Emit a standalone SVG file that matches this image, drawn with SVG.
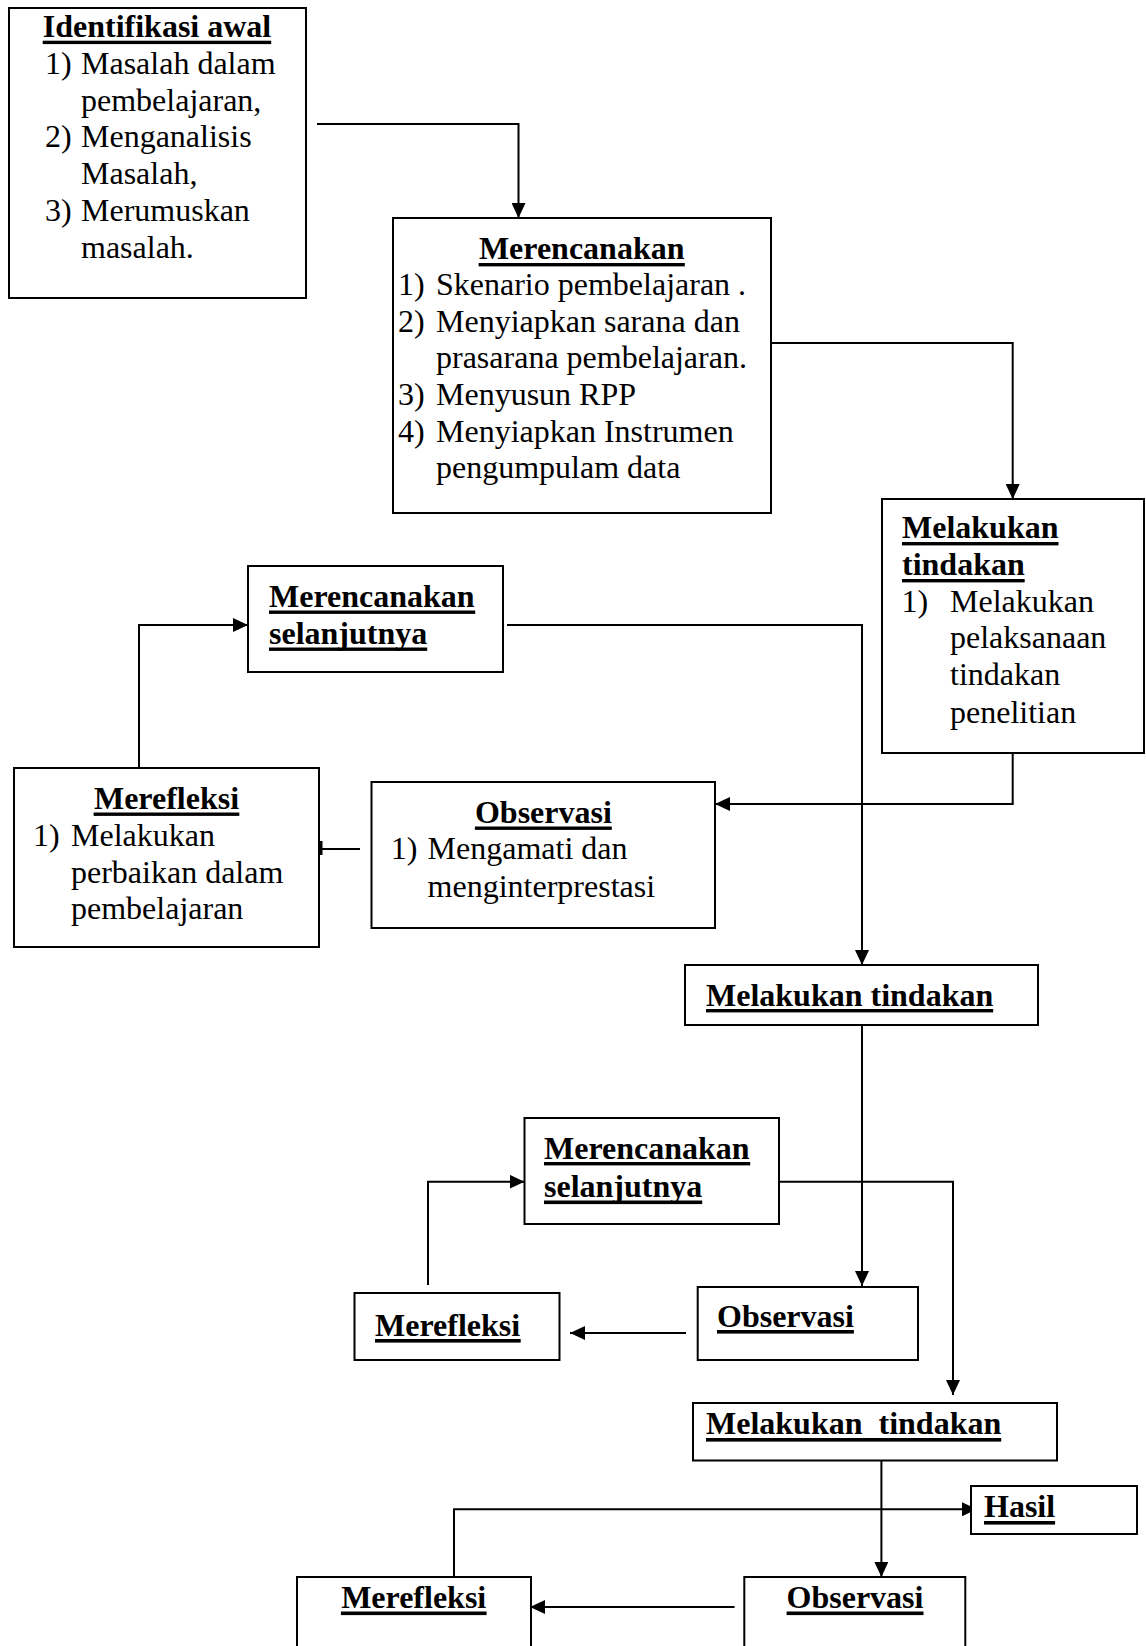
<svg xmlns="http://www.w3.org/2000/svg" width="1146" height="1646" viewBox="0 0 1146 1646">
<style>
.box{fill:#fff;stroke:#000;stroke-width:2}
.t{font-family:"Liberation Serif","Times New Roman",serif;font-size:32px;font-weight:bold;fill:#000}
.r{font-family:"Liberation Serif","Times New Roman",serif;font-size:32px;fill:#000}
.m{text-anchor:middle}
.u{fill:#000}
.c{fill:none;stroke:#000;stroke-width:2}
</style>
<defs>
<marker id="arr" markerUnits="userSpaceOnUse" markerWidth="15" markerHeight="14" refX="15" refY="7" orient="auto"><path d="M0,0 L15,7 L0,14 z" fill="#000"/></marker>
</defs>
<rect width="1146" height="1646" fill="#fff"/>

<g id="connectors">
<polyline class="c" points="317,124 518.5,124 518.5,218" marker-end="url(#arr)"/>
<polyline class="c" points="771,343 1012.7,343 1012.7,499" marker-end="url(#arr)"/>
<polyline class="c" points="1012.7,753 1012.7,804 715,804" marker-end="url(#arr)"/>
<line class="c" x1="360" y1="849" x2="321" y2="849"/>
<line x1="321" y1="841" x2="321" y2="855" stroke="#000" stroke-width="3"/>
<polyline class="c" points="139,768 139,625 248,625" marker-end="url(#arr)"/>
<polyline class="c" points="507,625 862,625 862,965" marker-end="url(#arr)"/>
<polyline class="c" points="862,1015 862,1286" marker-end="url(#arr)"/>
<polyline class="c" points="779,1181.7 953,1181.7 953,1395" marker-end="url(#arr)"/>
<polyline class="c" points="686,1333 570,1333" marker-end="url(#arr)"/>
<polyline class="c" points="428,1285 428,1181.7 524.5,1181.7" marker-end="url(#arr)"/>
<polyline class="c" points="881.4,1456 881.4,1577" marker-end="url(#arr)"/>
<polyline class="c" points="454,1578 454,1509.3 977,1509.3" marker-end="url(#arr)"/>
<polyline class="c" points="734.6,1607 530,1607" marker-end="url(#arr)"/>
</g>

<g id="identifikasi">
<rect class="box" x="9" y="8" width="297" height="290"/>
<text class="t m" x="157" y="37">Identifikasi awal</text>
<rect class="u" x="42.7" y="40.7" width="228.5" height="3.4"/>
<text class="r" x="45" y="74">1)</text><text class="r" x="81" y="74">Masalah dalam</text>
<text class="r" x="81" y="110.7">pembelajaran,</text>
<text class="r" x="45" y="147.4">2)</text><text class="r" x="81" y="147.4">Menganalisis</text>
<text class="r" x="81" y="184.1">Masalah,</text>
<text class="r" x="45" y="220.8">3)</text><text class="r" x="81" y="220.8">Merumuskan</text>
<text class="r" x="81" y="257.5">masalah.</text>
</g>

<g id="merencanakan">
<rect class="box" x="393" y="218" width="378" height="295"/>
<text class="t m" x="581.7" y="259">Merencanakan</text>
<rect class="u" x="478.6" y="263" width="206.2" height="3.4"/>
<text class="r" x="398" y="295">1)</text><text class="r" x="436" y="295">Skenario pembelajaran .</text>
<text class="r" x="398" y="331.7">2)</text><text class="r" x="436" y="331.7">Menyiapkan sarana dan</text>
<text class="r" x="436" y="368.3">prasarana pembelajaran.</text>
<text class="r" x="398" y="405">3)</text><text class="r" x="436" y="405">Menyusun RPP</text>
<text class="r" x="398" y="441.7">4)</text><text class="r" x="436" y="441.7">Menyiapkan Instrumen</text>
<text class="r" x="436" y="478.3">pengumpulam data</text>
</g>

<g id="melakukan1">
<rect class="box" x="882" y="499" width="262" height="254"/>
<text class="t" x="902" y="538">Melakukan</text>
<rect class="u" x="902" y="542" width="156.5" height="3.4"/>
<text class="t" x="902" y="575">tindakan</text>
<rect class="u" x="902" y="579" width="122.7" height="3.4"/>
<text class="r" x="901.5" y="611.7">1)</text><text class="r" x="950" y="611.7">Melakukan</text>
<text class="r" x="950" y="648.3">pelaksanaan</text>
<text class="r" x="950" y="685">tindakan</text>
<text class="r" x="950" y="722.5">penelitian</text>
</g>

<g id="selanjutnya1">
<rect class="box" x="248" y="566" width="255" height="106"/>
<text class="t" x="269" y="607">Merencanakan</text>
<rect class="u" x="269" y="610.5" width="206.2" height="3.4"/>
<text class="t" x="269" y="644">selanjutnya</text>
<rect class="u" x="269" y="647.5" width="158.2" height="3.4"/>
</g>

<g id="merefleksi1">
<rect class="box" x="14" y="768" width="305" height="179"/>
<text class="t m" x="166.5" y="809">Merefleksi</text>
<rect class="u" x="93.6" y="812.5" width="145.7" height="3.4"/>
<text class="r" x="33" y="846">1)</text><text class="r" x="71" y="846">Melakukan</text>
<text class="r" x="71" y="882.7">perbaikan dalam</text>
<text class="r" x="71" y="919.3">pembelajaran</text>
</g>

<g id="observasi1">
<rect class="box" x="371.5" y="782" width="343.5" height="146"/>
<text class="t m" x="543.4" y="823">Observasi</text>
<rect class="u" x="474.9" y="826.5" width="136.9" height="3.4"/>
<text class="r" x="390.7" y="858.5">1)</text><text class="r" x="427.6" y="858.5">Mengamati dan</text>
<text class="r" x="427.6" y="896.5">menginterprestasi</text>
</g>

<g id="melakukan2">
<rect class="box" x="685" y="965" width="353" height="60"/>
<text class="t" x="706" y="1005.5">Melakukan tindakan</text>
<rect class="u" x="706" y="1009" width="287.2" height="3.4"/>
</g>

<g id="selanjutnya2">
<rect class="box" x="524.5" y="1118" width="254.5" height="106"/>
<text class="t" x="544" y="1158.5">Merencanakan</text>
<rect class="u" x="544" y="1162" width="206.2" height="3.4"/>
<text class="t" x="544" y="1197">selanjutnya</text>
<rect class="u" x="544" y="1200.5" width="158.2" height="3.6"/>
</g>

<g id="merefleksi2">
<rect class="box" x="354.5" y="1293" width="205" height="67"/>
<text class="t" x="375" y="1335.5">Merefleksi</text>
<rect class="u" x="375" y="1339" width="145.7" height="3.6"/>
</g>

<g id="observasi2">
<rect class="box" x="697.7" y="1287" width="220.3" height="73"/>
<text class="t" x="717" y="1326.5">Observasi</text>
<rect class="u" x="717" y="1330" width="136.9" height="3.6"/>
</g>

<g id="melakukan3">
<rect class="box" x="693" y="1403" width="364" height="57.5"/>
<text class="t" x="706" y="1434">Melakukan&#160; tindakan</text>
<rect class="u" x="706" y="1438" width="295.2" height="3.6"/>
</g>

<g id="hasil">
<rect class="box" x="971" y="1486" width="166" height="48"/>
<text class="t" x="984" y="1517">Hasil</text>
<rect class="u" x="984" y="1521" width="71.1" height="3.6"/>
</g>

<g id="merefleksi3">
<rect class="box" x="297" y="1577" width="234" height="80"/>
<text class="t m" x="413.7" y="1607.5">Merefleksi</text>
<rect class="u" x="340.9" y="1611.5" width="145.7" height="3.6"/>
</g>

<g id="observasi3">
<rect class="box" x="744.3" y="1577" width="221" height="80"/>
<text class="t m" x="855" y="1607.5">Observasi</text>
<rect class="u" x="786.6" y="1611.5" width="136.9" height="3.6"/>
</g>
</svg>
